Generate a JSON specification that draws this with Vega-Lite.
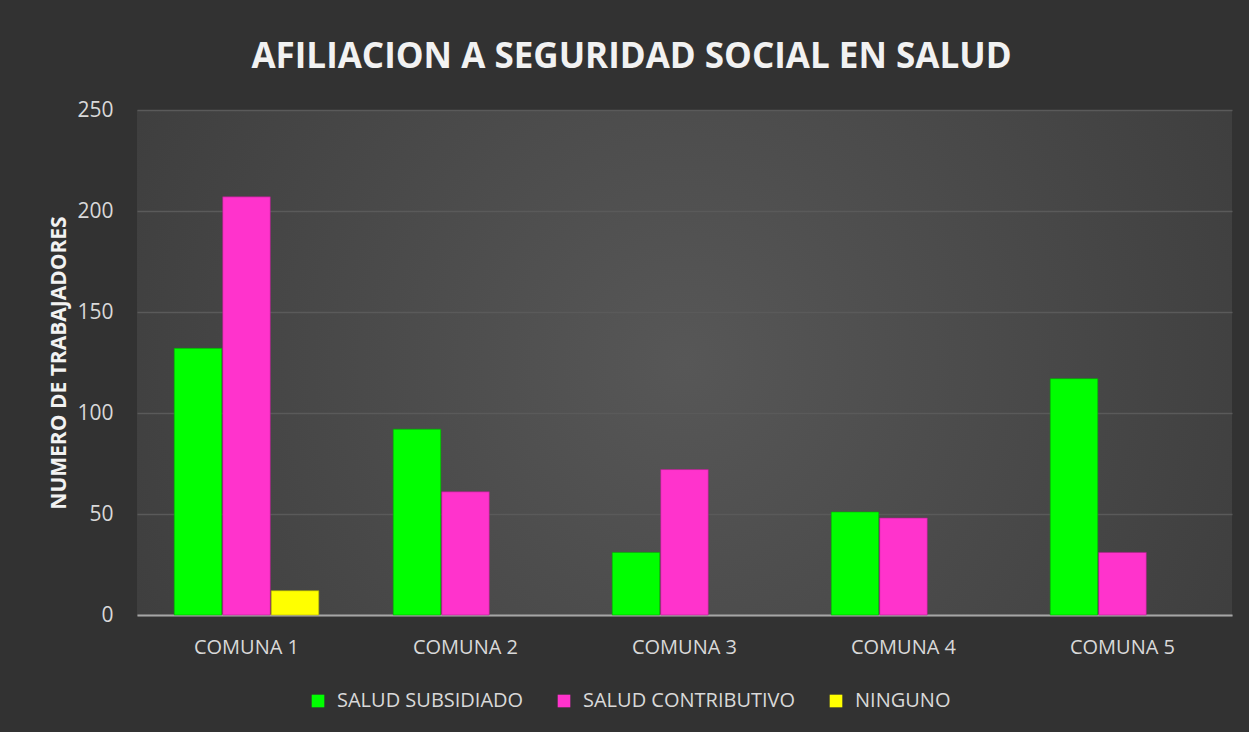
{
  "$schema": "https://vega.github.io/schema/vega-lite/v6.json",
  "width": 1095,
  "height": 505,
  "autosize": {"type": "none"},
  "padding": {"left": 137, "top": 110, "right": 17, "bottom": 117},
  "background": "#323232",
  "title": {
    "text": "AFILIACION A SEGURIDAD SOCIAL EN SALUD",
    "font": "Open Sans",
    "fontSize": 35,
    "fontWeight": "bold",
    "color": "#f2f2f2",
    "limit": 0,
    "anchor": "middle",
    "offset": 24,
    "dx": -53
  },
  "data": {
    "values": [
      {"comuna": "COMUNA 1", "tipo": "SALUD SUBSIDIADO", "valor": 132},
      {"comuna": "COMUNA 1", "tipo": "SALUD CONTRIBUTIVO", "valor": 207},
      {"comuna": "COMUNA 1", "tipo": "NINGUNO", "valor": 12},
      {"comuna": "COMUNA 2", "tipo": "SALUD SUBSIDIADO", "valor": 92},
      {"comuna": "COMUNA 2", "tipo": "SALUD CONTRIBUTIVO", "valor": 61},
      {"comuna": "COMUNA 3", "tipo": "SALUD SUBSIDIADO", "valor": 31},
      {"comuna": "COMUNA 3", "tipo": "SALUD CONTRIBUTIVO", "valor": 72},
      {"comuna": "COMUNA 4", "tipo": "SALUD SUBSIDIADO", "valor": 51},
      {"comuna": "COMUNA 4", "tipo": "SALUD CONTRIBUTIVO", "valor": 48},
      {"comuna": "COMUNA 5", "tipo": "SALUD SUBSIDIADO", "valor": 117},
      {"comuna": "COMUNA 5", "tipo": "SALUD CONTRIBUTIVO", "valor": 31}
    ]
  },
  "mark": {"type": "bar", "strokeWidth": 1, "strokeOpacity": 0.6},
  "encoding": {
    "x": {
      "field": "comuna",
      "type": "nominal",
      "sort": null,
      "title": null,
      "scale": {"paddingInner": 0.34, "paddingOuter": 0.17},
      "axis": {
        "labelAngle": 0,
        "labelFont": "Open Sans",
        "labelFontSize": 20,
        "labelColor": "#d9d9d9",
        "labelPadding": 22,
        "ticks": false,
        "domain": true,
        "domainColor": "#a6a6a6",
        "domainWidth": 2
      }
    },
    "xOffset": {
      "field": "tipo",
      "type": "nominal",
      "sort": ["SALUD SUBSIDIADO", "SALUD CONTRIBUTIVO", "NINGUNO"],
      "scale": {"domain": ["SALUD SUBSIDIADO", "SALUD CONTRIBUTIVO", "NINGUNO"], "paddingInner": 0.02}
    },
    "y": {
      "field": "valor",
      "type": "quantitative",
      "scale": {"domain": [0, 250]},
      "title": "NUMERO DE TRABAJADORES",
      "axis": {
        "values": [0, 50, 100, 150, 200, 250],
        "labelFont": "Open Sans",
        "labelFontSize": 21,
        "labelColor": "#d9d9d9",
        "labelPadding": 24,
        "titleFont": "Open Sans",
        "titleFontSize": 21,
        "titleFontWeight": "bold",
        "titleColor": "#f2f2f2",
        "titlePadding": 7,
        "ticks": false,
        "domain": false,
        "grid": true,
        "gridColor": "#5a5a5a",
        "gridWidth": 1.5
      }
    },
    "color": {
      "field": "tipo",
      "type": "nominal",
      "sort": ["SALUD SUBSIDIADO", "SALUD CONTRIBUTIVO", "NINGUNO"],
      "scale": {
        "domain": ["SALUD SUBSIDIADO", "SALUD CONTRIBUTIVO", "NINGUNO"],
        "range": ["#00ff00", "#ff33cc", "#ffff00"]
      },
      "legend": {
        "title": null,
        "orient": "none",
        "legendX": 171,
        "legendY": 581,
        "direction": "horizontal",
        "symbolType": "square",
        "symbolSize": 160,
        "symbolStrokeWidth": 0,
        "labelFont": "Open Sans",
        "labelFontSize": 20,
        "labelColor": "#d9d9d9",
        "labelLimit": 0,
        "labelOffset": 9,
        "columnPadding": 30
      }
    },
    "stroke": {
      "field": "tipo",
      "type": "nominal",
      "scale": {
        "domain": ["SALUD SUBSIDIADO", "SALUD CONTRIBUTIVO", "NINGUNO"],
        "range": ["#00aa00", "#b0208c", "#b0b000"]
      },
      "legend": null
    }
  },
  "config": {
    "view": {
      "stroke": null,
      "fill": {
        "gradient": "radial",
        "x1": 0.5, "y1": 0.5, "x2": 0.5, "y2": 0.5, "r1": 0, "r2": 0.75,
        "stops": [
          {"offset": 0, "color": "#575757"},
          {"offset": 1, "color": "#363636"}
        ]
      }
    }
  }
}
